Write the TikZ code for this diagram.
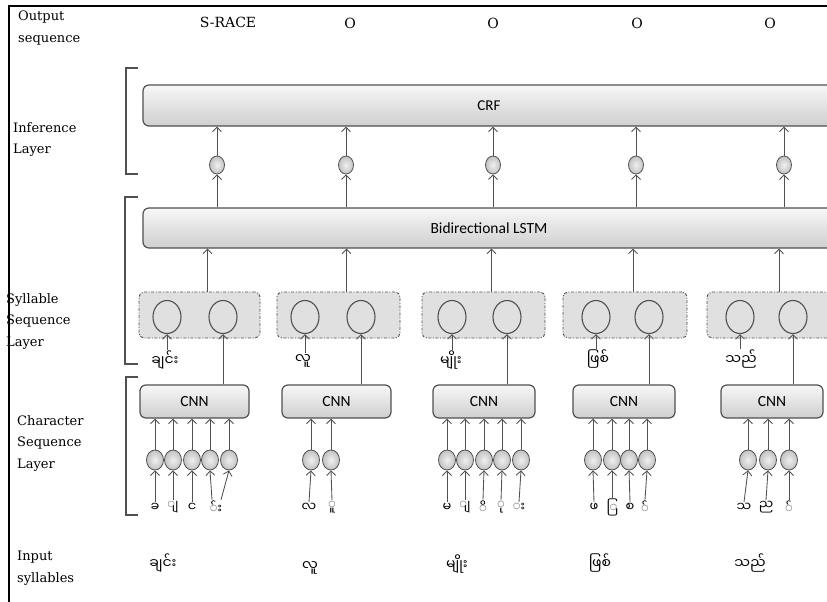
\documentclass[tikz,border=0pt]{standalone}
\usepackage{fontspec}
\setmainfont{DejaVu Serif}
\newfontfamily\boxfont{Carlito}
\newfontfamily\mya[Script=Myanmar]{Noto Sans Myanmar UI}
\usetikzlibrary{arrows.meta,shapes.geometric,calc}
\definecolor{ln}{HTML}{505050}
\begin{document}
\begin{tikzpicture}[x=1pt,y=-1pt,
  conn/.style={draw=ln, line width=0.85pt, -{Straight Barb[length=4.5pt,width=9pt]}},
  bigbox/.style={draw=ln, line width=1.2pt, rounded corners=6pt, top color=gray!6, bottom color=gray!38, inner sep=0pt, font=\boxfont\fontsize{15}{18}\selectfont},
  cnnbox/.style={bigbox, minimum height=33pt, font=\boxfont\fontsize{15.5}{18}\selectfont},
  dashbox/.style={draw=ln, line width=0.9pt, dash pattern=on 3pt off 1.6pt on 1pt off 1.6pt, fill=gray!24, rounded corners=5pt, minimum height=46pt, inner sep=0pt},
  bigcirc/.style={ellipse, draw=ln, line width=1.1pt, minimum width=28pt, minimum height=33pt, inner sep=0pt},
  smallcirc/.style={ellipse, draw=ln, line width=0.8pt, inner color=gray!12, outer color=gray!48, minimum width=15pt, minimum height=18pt, inner sep=0pt},
  charcirc/.style={ellipse, draw=ln, line width=0.8pt, inner color=gray!12, outer color=gray!48, minimum width=17pt, minimum height=20pt, inner sep=0pt},
  sidelabel/.style={anchor=north west, inner sep=0pt, align=left, font=\fontsize{13}{21.5}\selectfont},
  outlabel/.style={anchor=base, inner sep=0pt, font=\fontsize{14}{16}\selectfont},
  sylab/.style={inner sep=1pt, font=\mya\fontsize{14}{16}\selectfont},
  chlab/.style={inner sep=0.5pt, font=\mya\fontsize{13}{15}\selectfont},
  bracket/.style={draw=ln, line width=1.1pt}
]
\useasboundingbox (0,0) rectangle (827,602);
\begin{scope}
\clip (0,0) rectangle (827,602);
\fill[white] (0,0) rectangle (827,602);

% side labels
\node[sidelabel] (lout) at (18,11) {Output\\sequence};
\node[sidelabel] (linf) at (13,122) {Inference\\Layer};
\node[sidelabel] (lsyl) at (6,293) {Syllable\\Sequence\\Layer};
\node[sidelabel] (lchr) at (17,415) {Character\\Sequence\\Layer};
\node[sidelabel] (linp) at (17,551) {Input\\syllables};

% output sequence
\node[outlabel] (o1) at (228,28) {S-RACE};
\node[outlabel] (o2) at (350,29) {O};
\node[outlabel] (o3) at (493,29) {O};
\node[outlabel] (o4) at (637,29) {O};
\node[outlabel] (o5) at (770,29) {O};

% brackets
\draw[bracket] (138,68) -- (126,68) -- (126,174) -- (138,174);
\draw[bracket] (138,197) -- (125,197) -- (125,364) -- (138,364);
\draw[bracket] (138,377) -- (126,377) -- (126,515) -- (138,515);

% big boxes
\node[bigbox, minimum width=692pt, minimum height=41pt] (crf) at (489,105.5) {CRF};
\node[bigbox, minimum width=692pt, minimum height=40pt, font=\boxfont\fontsize{15.5}{18}\selectfont] (lstm) at (489,228) {Bidirectional LSTM};

% inference circles
\foreach \i/\x in {1/217,2/346,3/493,4/636,5/784}{
  \node[smallcirc] (s\i) at (\x,165) {};
  \draw[conn] (s\i.south |- lstm.north) -- (s\i.south);
  \draw[conn] (s\i.north) -- (s\i.north |- crf.south);
}

% syllable boxes
\node[dashbox, minimum width=121pt] (d1) at (199.5,315) {};
\node[dashbox, minimum width=123pt] (d2) at (338.5,315) {};
\node[dashbox, minimum width=123pt] (d3) at (483.5,315) {};
\node[dashbox, minimum width=124pt] (d4) at (625,315) {};
\node[dashbox, minimum width=128pt] (d5) at (771,315) {};
\foreach \i/\a/\b in {1/167/223,2/305/361,3/452/507,4/596/649,5/740/793}{
  \node[bigcirc] (l\i) at (\a,317) {};
  \node[bigcirc] (r\i) at (\b,317) {};
  \draw[conn] ([xshift=8pt]d\i.north) -- ([xshift=8pt]d\i.north |- lstm.south);
}

% syllable labels
\node[sylab] (y1) at (165,360) {^^^^1001^^^^103b^^^^1004^^^^103a^^^^1038};
\node[sylab] (y2) at (303,361) {^^^^101c^^^^1030};
\node[sylab] (y3) at (451,360) {^^^^1019^^^^103b^^^^102d^^^^102f^^^^1038};
\node[sylab] (y4) at (598,359) {^^^^1016^^^^103c^^^^1005^^^^103a};
\node[sylab] (y5) at (741,359) {^^^^101e^^^^100a^^^^103a};
\foreach \i in {1,...,5}{
  \draw[conn] (l\i.south |- y\i.north) -- (l\i.south);
}

% CNN boxes
\node[cnnbox, minimum width=109pt] (cnn1) at (194.5,401.5) {CNN};
\node[cnnbox, minimum width=109pt] (cnn2) at (336.5,401.5) {CNN};
\node[cnnbox, minimum width=102pt] (cnn3) at (484,401.5) {CNN};
\node[cnnbox, minimum width=102pt] (cnn4) at (624,401.5) {CNN};
\node[cnnbox, minimum width=102pt] (cnn5) at (772,401.5) {CNN};
\foreach \i in {1,...,5}{
  \draw[conn] (r\i.south |- cnn\i.north) -- (r\i.south);
}

% character circles
\foreach \b/\j/\x in {1/1/155,1/2/173,1/3/192,1/4/210,1/5/229,
                      2/1/311,2/2/331,
                      3/1/447,3/2/465,3/3/484,3/4/502,3/5/521,
                      4/1/593,4/2/612,4/3/629,4/4/647,
                      5/1/748,5/2/768,5/3/789}{
  \node[charcirc] (c\b\j) at (\x,460) {};
  \draw[conn] (c\b\j.north) -- (c\b\j.north |- cnn\b.south);
}

% character labels
\node[chlab] (t11) at (155,507) {^^^^1001};
\node[chlab] (t12) at (173,507) {^^^^103b};
\node[chlab] (t13) at (192,507) {^^^^1004};
\node[chlab] (t14) at (216,507) {^^^^103a^^^^1038};
\node[chlab] (t21) at (309,507) {^^^^101c};
\node[chlab] (t22) at (332,507) {^^^^1030};
\node[chlab] (t31) at (447,507) {^^^^1019};
\node[chlab] (t32) at (465,507) {^^^^103b};
\node[chlab] (t33) at (483,507) {^^^^102d};
\node[chlab] (t34) at (501,507) {^^^^102f};
\node[chlab] (t35) at (519,507) {^^^^1038};
\node[chlab] (t41) at (594,507) {^^^^1016};
\node[chlab] (t42) at (612,507) {^^^^103c};
\node[chlab] (t43) at (630,507) {^^^^1005};
\node[chlab] (t44) at (645,507) {^^^^103a};
\node[chlab] (t51) at (744,507) {^^^^101e};
\node[chlab] (t52) at (766,507) {^^^^100a};
\node[chlab] (t53) at (789,507) {^^^^103a};
\foreach \b/\j in {1/1,1/2,1/3,2/1,2/2,3/1,3/2,3/3,3/4,3/5,4/1,4/2,4/3,4/4,5/1,5/2,5/3}{
  \draw[conn] (t\b\j.north) -- (c\b\j.south);
}
\draw[conn] ([xshift=-4pt]t14.north) -- (c14.south);
\draw[conn] ([xshift=5pt]t14.north) -- (c15.south);

% input syllables
\node[sylab] (i1) at (163,563) {^^^^1001^^^^103b^^^^1004^^^^103a^^^^1038};
\node[sylab] (i2) at (310,568) {^^^^101c^^^^1030};
\node[sylab] (i3) at (457,564) {^^^^1019^^^^103b^^^^102d^^^^102f^^^^1038};
\node[sylab] (i4) at (600,563) {^^^^1016^^^^103c^^^^1005^^^^103a};
\node[sylab] (i5) at (750,563) {^^^^101e^^^^100a^^^^103a};

% frame
\draw[line width=1.6pt, black] (9,602) -- (9,6) -- (827,6);
\end{scope}
\end{tikzpicture}
\end{document}
